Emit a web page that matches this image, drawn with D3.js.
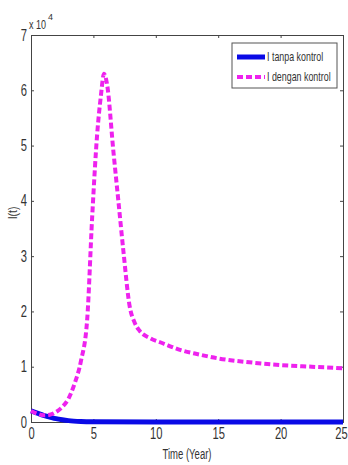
<!DOCTYPE html>
<html>
<head>
<meta charset="utf-8">
<script src="https://cdn.jsdelivr.net/npm/d3@7"></script>
<style>
  body { margin: 0; background: #fff; }
  svg text { font-family: "Liberation Sans", Arial, sans-serif; fill: #333; }
</style>
</head>
<body>
<svg id="chart" width="348" height="465"></svg>
<script>
// time (years) and I(t) in units of 10^4
const tDengan = [0, 0.5, 1, 1.5, 2, 2.5, 3, 3.5, 4, 4.5, 4.9, 5.3, 5.6, 5.85, 6.1, 6.6, 7.0, 7.4, 7.9, 8.3, 8.7, 9.5, 10.6, 12, 13.5, 15, 17.5, 20, 22.5, 25];
const iDengan = [0.20, 0.15, 0.12, 0.13, 0.18, 0.27, 0.42, 0.7, 1.1, 1.85, 3.7, 5.2, 5.9, 6.3, 6.1, 4.9, 4.0, 3.1, 2.1, 1.8, 1.65, 1.52, 1.42, 1.3, 1.22, 1.15, 1.08, 1.03, 1.0, 0.97];
const tTanpa = [0, 0.5, 1, 1.5, 2, 2.5, 3, 4, 5, 10, 15, 20, 25];
const iTanpa = [0.2, 0.16, 0.12, 0.09, 0.06, 0.04, 0.025, 0.01, 0.005, 0, 0, 0, 0];
const xTicks = [0, 5, 10, 15, 20, 25];
const yTicks = [0, 1, 2, 3, 4, 5, 6, 7];
const legendLabels = ['I tanpa kontrol', 'I dengan kontrol'];

const margin = { top: 35, right: 5, bottom: 43, left: 31 };
const width = 348 - margin.left - margin.right;
const height = 465 - margin.top - margin.bottom;
const squeeze = 0.7;

const svg = d3.select('#chart');
const g = svg.append('g').attr('transform', 'translate(' + margin.left + ',' + margin.top + ')');

const x = d3.scaleLinear().domain([0, 25]).range([0, width]);
const y = d3.scaleLinear().domain([0, 7]).range([height, 0]);

// box with inward ticks on all four sides
const axisColor = '#444';
const xAxis = g.append('g').attr('transform', 'translate(0,' + height + ')')
  .call(d3.axisBottom(x).tickValues(xTicks).tickSize(-3).tickPadding(6).tickFormat(d3.format('d')));
g.append('g').call(d3.axisTop(x).tickValues(xTicks).tickSize(-3).tickFormat(''));
const yAxis = g.append('g')
  .call(d3.axisLeft(y).tickValues(yTicks).tickSize(-3).tickPadding(4).tickFormat(d3.format('d')));
g.append('g').attr('transform', 'translate(' + width + ',0)')
  .call(d3.axisRight(y).tickValues(yTicks).tickSize(-3).tickFormat(''));
g.selectAll('.domain, .tick line').attr('stroke', axisColor);
g.selectAll('.tick text').attr('font-size', 16).attr('fill', '#444')
  .style('font-family', '"Liberation Sans", Arial, sans-serif');
xAxis.selectAll('.tick text').attr('transform', 'scale(' + squeeze + ',1)');
// last label hugs the right edge like the original
xAxis.selectAll('.tick text').filter(d => d === 25).attr('x', -2 / squeeze);
yAxis.selectAll('.tick text').attr('x', -4 / squeeze).attr('transform', 'scale(' + squeeze + ',1)');

const line = d3.line().x(d => x(d[0])).y(d => y(d[1])).curve(d3.curveMonotoneX);

g.append('path')
  .datum(tTanpa.map((t, i) => [t, iTanpa[i]]))
  .attr('d', line)
  .attr('fill', 'none')
  .attr('stroke', '#0a0ae6')
  .attr('stroke-width', 5);

g.append('path')
  .datum(tDengan.map((t, i) => [t, iDengan[i]]))
  .attr('d', line)
  .attr('fill', 'none')
  .attr('stroke', '#ee22ee')
  .attr('stroke-width', 4)
  .attr('stroke-dasharray', '6,3');

// exponent label
svg.append('text').attr('transform', 'translate(29,29) scale(0.75,1)')
  .attr('font-size', 12).attr('fill', '#444').text('x 10');
svg.append('text').attr('x', 48).attr('y', 20)
  .attr('font-size', 9).attr('fill', '#444').text('4');

// axis titles
svg.append('text')
  .attr('transform', 'translate(' + (margin.left + width / 2) + ',459) scale(0.68,1)')
  .attr('text-anchor', 'middle').attr('font-size', 14)
  .text('Time (Year)');
svg.append('text')
  .attr('transform', 'translate(17,213) rotate(-90) scale(0.8,1)')
  .attr('text-anchor', 'middle').attr('font-size', 13)
  .text('I(t)');

// legend
const legend = svg.append('g').attr('transform', 'translate(232,43)');
legend.append('rect').attr('width', 105).attr('height', 45)
  .attr('fill', '#fff').attr('stroke', '#555').attr('stroke-width', 1);
const legendStyles = [
  { color: '#0a0ae6', width: 5, dash: null },
  { color: '#ee22ee', width: 4, dash: '6,3' }
];
legendLabels.forEach((label, i) => {
  const yy = 14 + i * 20;
  legend.append('line').attr('x1', 5).attr('x2', 33).attr('y1', yy).attr('y2', yy)
    .attr('stroke', legendStyles[i].color).attr('stroke-width', legendStyles[i].width)
    .attr('stroke-dasharray', legendStyles[i].dash);
  legend.append('text').attr('transform', 'translate(35,' + (yy + 4) + ') scale(0.74,1)')
    .attr('font-size', 12)
    .text(label);
});
</script>
</body>
</html>
